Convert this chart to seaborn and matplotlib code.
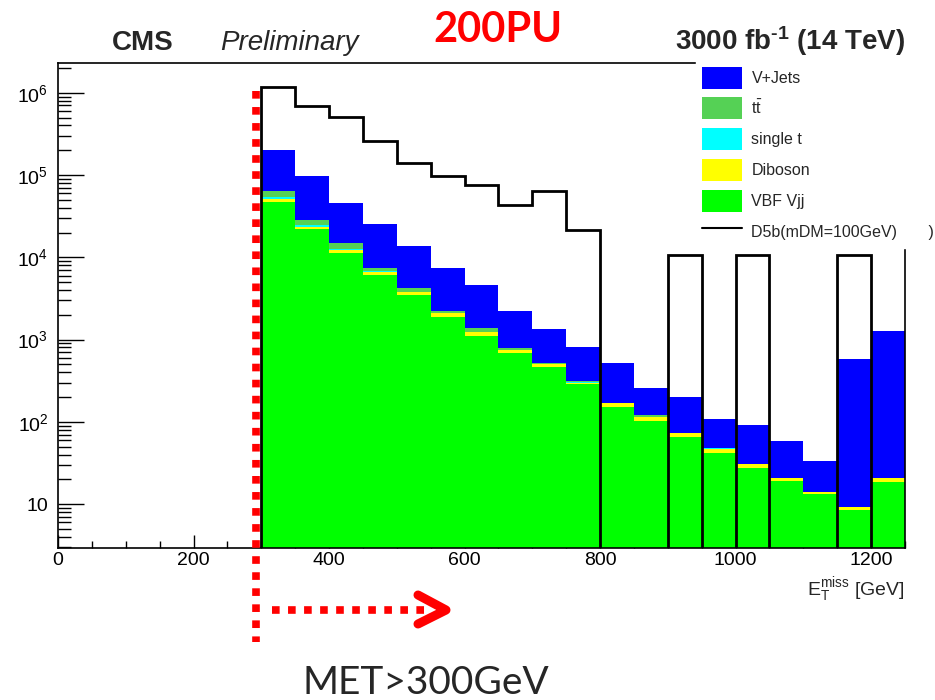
import numpy as np
import pandas as pd
import matplotlib
matplotlib.use("Agg")
import matplotlib.pyplot as plt
import seaborn as sns
from matplotlib.patches import Patch
from matplotlib.lines import Line2D
from matplotlib.ticker import LogLocator, FuncFormatter, MultipleLocator, NullFormatter

# ---------------- data ----------------
bin_edges = [300, 350, 400, 450, 500, 550, 600, 650, 700, 750, 800,
             850, 900, 950, 1000, 1050, 1100, 1150, 1200, 1250]
vjets    = [139000, 68000, 30900, 17900, 9400, 5260, 3280, 1440, 830, 496,
            345, 140, 125, 59, 61, 37.8, 19.4, 572, 1240]
ttbar    = [9500, 3900, 2200, 740, 460, 120, 130, 37, 10, 14,
            1, 6, 0.5, 0.3, 0, 0, 0, 0, 0]
single_t = [3000, 1100, 200, 50, 30, 10, 10, 5, 2, 3,
            1, 1, 0.5, 0.5, 0, 0, 0, 0, 0]
diboson  = [4100, 1500, 1100, 600, 340, 190, 120, 59, 48, 14,
            15, 13, 6.6, 4.6, 3.0, 1.7, 0.8, 0.6, 2.3]
vbf_vjj  = [47400, 21900, 11300, 6090, 3450, 1900, 1110, 682, 461, 286,
            153, 101, 66, 42.3, 27.8, 19.1, 13.3, 8.57, 18.5]
signal_d5b = [1.18e6, 6.95e5, 5.1e5, 2.59e5, 1.40e5, 9.6e4, 7.6e4, 4.3e4, 6.4e4, 2.13e4,
              0, 0, 1.08e4, 0, 1.08e4, 0, 0, 1.08e4, 0]

process_names = ["V+Jets", "ttbar", "single t", "Diboson", "VBF Vjj"]
legend_labels = ["V+Jets", r"$\mathrm{t\bar{t}}$", "single t", "Diboson", "VBF Vjj",
                 "D5b(mDM=100GeV)       )"]
process_colors = ["#0000ff", "#55d155", "#00ffff", "#ffff00", "#00ff00"]
x_ticks = [0, 200, 400, 600, 800, 1000, 1200]

# ---------------- style ----------------
sns.set_theme(style="white")
plt.rcParams["font.family"] = ["Liberation Sans", "DejaVu Sans"]
plt.rcParams["mathtext.fontset"] = "custom"
plt.rcParams["mathtext.rm"] = "Liberation Sans"
plt.rcParams["mathtext.it"] = "Liberation Sans:italic"
plt.rcParams["mathtext.bf"] = "Liberation Sans:bold"
plt.rcParams["mathtext.sf"] = "Liberation Sans"
plt.rcParams["mathtext.default"] = "regular"

W, H = 935, 700
def fx(px):
    return px / W
def fy(py):
    return 1 - py / H

fig = plt.figure(figsize=(9.35, 7.0), dpi=100)
ax = fig.add_axes([fx(58), fy(548), fx(905) - fx(58), fy(63) - fy(548)])

# ---------------- stacked backgrounds ----------------
lo = np.array(bin_edges[:-1], dtype=float)
hi = np.array(bin_edges[1:], dtype=float)
centers = (lo + hi) / 2
series = [vjets, ttbar, single_t, diboson, vbf_vjj]
rows = []
for name, vals in zip(process_names, series):
    for c, v in zip(centers, vals):
        rows.append({"met": c, "events": v, "process": name})
df = pd.DataFrame(rows)

sns.histplot(data=df, x="met", weights="events", hue="process",
             hue_order=process_names, palette=dict(zip(process_names, process_colors)),
             multiple="stack", bins=bin_edges, element="bars", fill=True,
             alpha=1, linewidth=0, legend=False, ax=ax)

ax.set_yscale("log")
ymin, ymax = 2.92, 2.30e6
sig_draw = np.where(np.array(signal_d5b) > 0, signal_d5b, 1.0)
ax.stairs(sig_draw, bin_edges, baseline=1.0, color="black", lw=2.0, zorder=5)

ax.set_xlim(0, 1250)
ax.set_ylim(ymin, ymax)

# ---------------- axes / ticks ----------------
ax.xaxis.set_minor_locator(MultipleLocator(50))
ax.set_xticks(x_ticks)
ax.yaxis.set_major_locator(LogLocator(base=10, numticks=20))
ax.yaxis.set_minor_locator(LogLocator(base=10, subs=np.arange(2, 10), numticks=20))
ax.yaxis.set_minor_formatter(NullFormatter())

def yfmt(v, pos):
    e = int(round(np.log10(v)))
    if e == 1:
        return "10"
    return r"$10^{%d}$" % e
ax.yaxis.set_major_formatter(FuncFormatter(yfmt))

ax.tick_params(axis="both", which="both", direction="in", colors="black",
               labelsize=14, width=1.0, bottom=True, left=True, top=False, right=False)
ax.tick_params(axis="y", which="major", length=18.7, pad=7)
ax.tick_params(axis="y", which="minor", length=9.4)
ax.tick_params(axis="x", which="major", length=9.4, pad=3)
ax.tick_params(axis="x", which="minor", length=5)
for s in ax.spines.values():
    s.set_visible(True)
    s.set_color("black")
    s.set_linewidth(1.2)

ax.set_xlabel(r"$E_{T}^{miss}$ [GeV]", fontsize=14, loc="right", labelpad=4)
ax.set_ylabel("")

# ---------------- legend ----------------
handles = [Patch(facecolor=c, edgecolor="none") for c in process_colors]
handles.append(Line2D([], [], color="black", lw=1.5))
leg = ax.legend(handles, legend_labels, loc="upper left",
                bbox_to_anchor=(fx(696), fy(61)), bbox_transform=fig.transFigure,
                frameon=True, fancybox=False, edgecolor="white", facecolor="white",
                framealpha=1, fontsize=11.5, handlelength=2.56, handleheight=1.74,
                handletextpad=0.56, labelspacing=0.55, borderpad=0.35, borderaxespad=0)
leg.set_zorder(10)

# ---------------- header texts ----------------
fig.text(fx(143), fy(50), "CMS", weight="bold", size=20, ha="center", va="baseline")
fig.text(fx(220), fy(50), "Preliminary", style="italic", size=20, ha="left", va="baseline")
fig.text(fx(498), fy(42), "200PU", color="#ff0000", weight="bold", size=30,
         family=["Lato", "DejaVu Sans"], ha="center", va="baseline")
fig.text(fx(905), fy(50), "3000 fb$^{\\mathbf{\u2010}\\mathbf{1}}$ (14 TeV)", weight="bold", size=20,
         ha="right", va="baseline")

# ---------------- annotation overlay ----------------
fig.add_artist(Line2D([fx(256), fx(256)], [fy(91), fy(642)], transform=fig.transFigure,
                      color="#ff0000", lw=5.5, linestyle=(0, (1.0, 1.1)),
                      dash_capstyle="butt", solid_capstyle="butt", zorder=20))
fig.add_artist(Line2D([fx(272), fx(425)], [fy(610), fy(610)], transform=fig.transFigure,
                      color="#ff0000", lw=5.5, linestyle=(0, (1.0, 1.1)),
                      dash_capstyle="butt", solid_capstyle="butt", zorder=20))
fig.add_artist(Line2D([fx(418), fx(446), fx(418)], [fy(595), fy(610), fy(624)],
                      transform=fig.transFigure, color="#ff0000", lw=6.5,
                      solid_capstyle="round", solid_joinstyle="round", zorder=20))
fig.text(fx(426), fy(694), "MET>300GeV", size=28, family=["Lato", "DejaVu Sans"],
         ha="center", va="baseline")

fig.savefig("out.png", dpi=100)
